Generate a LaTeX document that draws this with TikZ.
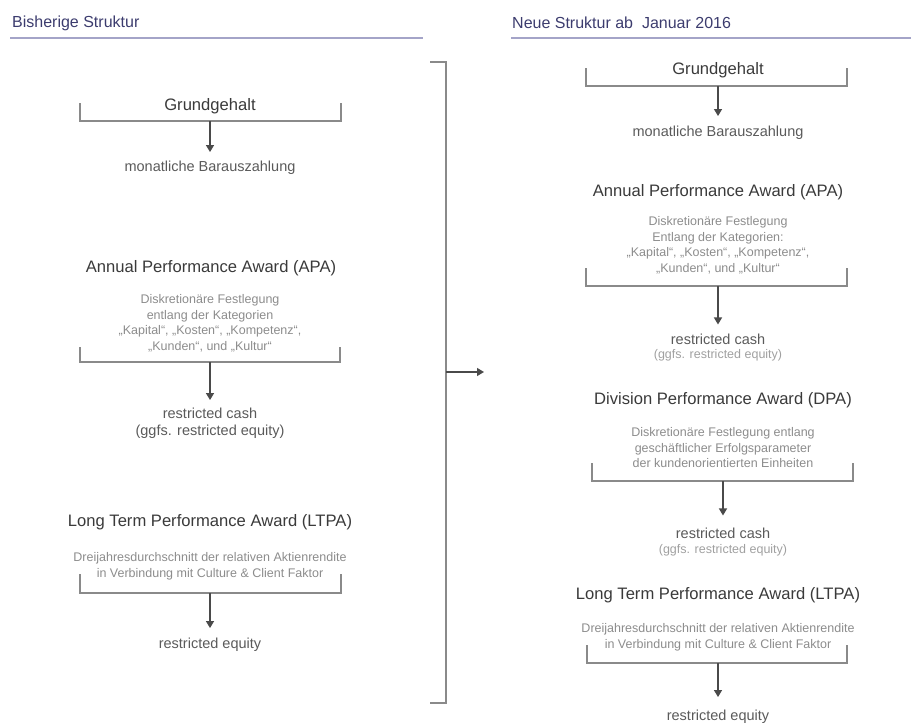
\documentclass[tikz,border=0pt]{standalone}
\usepackage{fontspec}
\setmainfont{Liberation Sans}
\usetikzlibrary{arrows.meta}
\definecolor{hdr}{HTML}{3C3C6E}
\definecolor{hline}{HTML}{A4A4C8}
\definecolor{ttlc}{HTML}{3A3A3A}
\definecolor{subc}{HTML}{5A5A5A}
\definecolor{dscc}{HTML}{8C8C8C}
\definecolor{ggc}{HTML}{A0A0A0}
\definecolor{brkc}{HTML}{8A8A8A}
\definecolor{flowc}{HTML}{4A4A4A}
\begin{document}
\begin{tikzpicture}[x=1pt,y=-1pt,
  hdrtext/.style={font=\fontsize{16}{18}\selectfont, text=hdr, inner sep=0, anchor=west},
  hdrline/.style={draw=hline, line width=1.2pt},
  ttl/.style={font=\fontsize{16.6}{19}\selectfont, text=ttlc, inner sep=0},
  res/.style={font=\fontsize{14.5}{17}\selectfont, text=subc, align=center, inner sep=0},
  gg/.style={font=\fontsize{12.5}{15}\selectfont, text=ggc, align=center, inner sep=0},
  dsc/.style={font=\fontsize{12.5}{15.5}\selectfont, text=dscc, align=center, inner sep=0},
  brkt/.style={draw=brkc, line width=1.4pt},
  flow/.style={draw=flowc, line width=1.3pt, -{Triangle[length=7pt,width=8pt]}}]
\useasboundingbox (0,0) rectangle (911,728);

% headers
\node[hdrtext] (h1) at (12,23) {Bisherige Struktur};
\draw[hdrline] (10,38) -- (423,38);
\node[hdrtext] (h2) at (512,23) {Neue Struktur ab\ \ Januar 2016};
\draw[hdrline] (511,38) -- (911,38);

% ---------------- left column ----------------
\node[ttl] (lg) at (210,106) {Grundgehalt};
\draw[brkt] (80,103) -- (80,121) -- (341,121) -- (341,103);
\coordinate (lgb) at (210,121);
\node[res] (lm) at (210,168) {monatliche Barauszahlung};
\draw[flow, shorten >=9pt] (lgb) -- (lm);

\node[ttl] (lapa) at (211,268) {Annual Performance Award (APA)};
\node[dsc] (lapad) at (210,323.5) {Diskretionäre Festlegung\\entlang der Kategorien\\„Kapital“, „Kosten“, „Kompetenz“,\\„Kunden“, und „Kultur“};
\draw[brkt] (80,347) -- (80,362) -- (340,362) -- (340,347);
\coordinate (lapab) at (210,362);
\node[res] (lrc) at (210,423.5) {restricted cash\\(ggfs. restricted equity)};
\draw[flow, shorten >=8pt] (lapab) -- (lrc);

\node[ttl] (lltpa) at (210,522) {Long Term Performance Award (LTPA)};
\node[dsc] (lltpad) at (210,566.5) {Dreijahresdurchschnitt der relativen Aktienrendite\\in Verbindung mit Culture \& Client Faktor};
\draw[brkt] (80,574) -- (80,593) -- (341,593) -- (341,574);
\coordinate (lltpab) at (210,593);
\node[res] (lre) at (210,645) {restricted equity};
\draw[flow, shorten >=10pt] (lltpab) -- (lre);

% ---------------- big bracket ----------------
\draw[brkt] (430,62) -- (446,62) -- (446,703) -- (430,703);
\coordinate (bigm) at (446,372);
\coordinate (bigt) at (484,372);
\draw[flow] (bigm) -- (bigt);

% ---------------- right column ----------------
\node[ttl] (rg) at (718,70) {Grundgehalt};
\draw[brkt] (586,68) -- (586,86) -- (847,86) -- (847,68);
\coordinate (rgb) at (718,86);
\node[res] (rm) at (718,133) {monatliche Barauszahlung};
\draw[flow, shorten >=10pt] (rgb) -- (rm);

\node[ttl] (rapa) at (718,192) {Annual Performance Award (APA)};
\node[dsc] (rapad) at (718,245.5) {Diskretionäre Festlegung\\Entlang der Kategorien:\\„Kapital“, „Kosten“, „Kompetenz“,\\„Kunden“, und „Kultur“};
\draw[brkt] (586,268) -- (586,286) -- (847,286) -- (847,268);
\coordinate (rapab) at (718,286);
\node[res] (rrc1) at (718,339) {restricted cash};
\node[gg] (rrc1g) at (718,355) {(ggfs. restricted equity)};
\draw[flow, shorten >=9pt] (rapab) -- (rrc1);

\node[ttl] (rdpa) at (723,400) {Division Performance Award (DPA)};
\node[dsc] (rdpad) at (723,448) {Diskretionäre Festlegung entlang\\geschäftlicher Erfolgsparameter\\der kundenorientierten Einheiten};
\draw[brkt] (592,463) -- (592,481) -- (853,481) -- (853,463);
\coordinate (rdpab) at (723,481);
\node[res] (rrc2) at (723,533) {restricted cash};
\node[gg] (rrc2g) at (723,550) {(ggfs. restricted equity)};
\draw[flow, shorten >=12pt] (rdpab) -- (rrc2);

\node[ttl] (rltpa) at (718,595) {Long Term Performance Award (LTPA)};
\node[dsc] (rltpad) at (718,637.5) {Dreijahresdurchschnitt der relativen Aktienrendite\\in Verbindung mit Culture \& Client Faktor};
\draw[brkt] (587,645) -- (587,663) -- (847,663) -- (847,645);
\coordinate (rltpab) at (718,663);
\node[res] (rre) at (718,717) {restricted equity};
\draw[flow, shorten >=13pt] (rltpab) -- (rre);
\end{tikzpicture}
\end{document}
